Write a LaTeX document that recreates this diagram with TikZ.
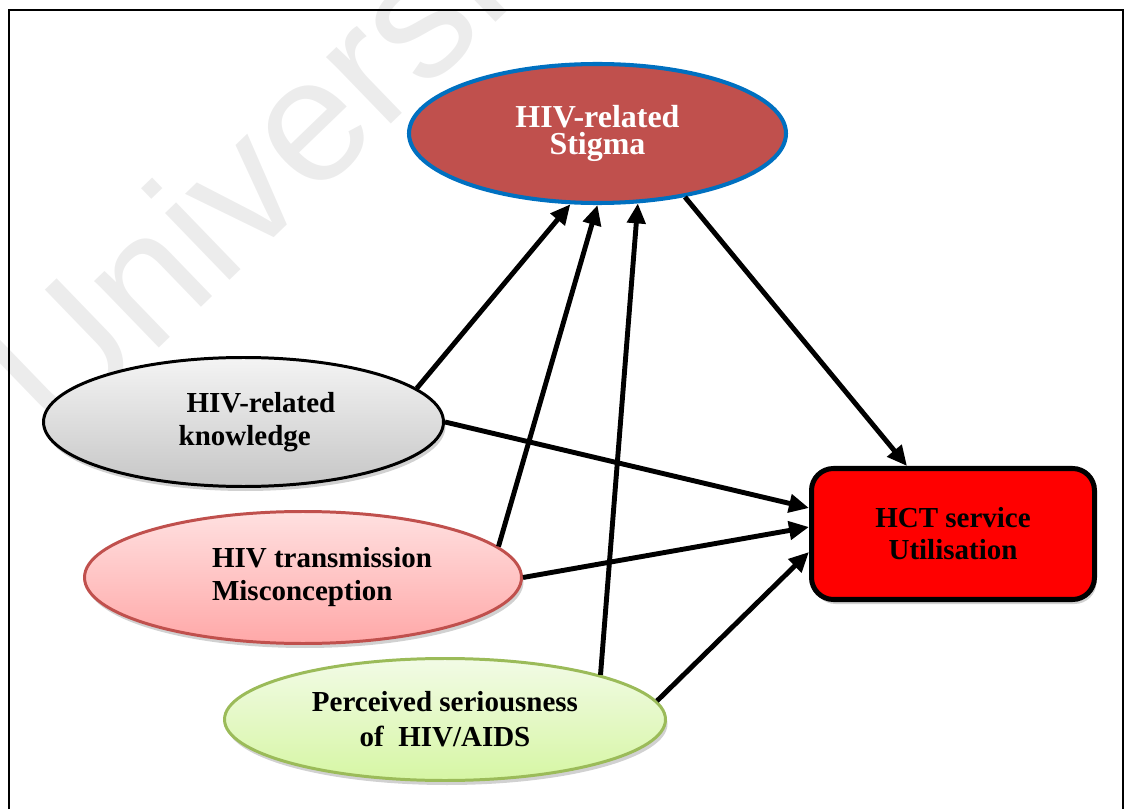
\documentclass[tikz,border=0pt]{standalone}
\usepackage{fontspec}
\setmainfont{Liberation Serif}
\newfontfamily\markfont{Liberation Sans}
\usetikzlibrary{arrows.meta,shapes.geometric,shadows}
\definecolor{stigmafill}{RGB}{192,80,77}
\definecolor{stigmadraw}{RGB}{0,112,192}
\definecolor{knowtop}{RGB}{244,244,244}
\definecolor{knowbot}{RGB}{198,198,198}
\definecolor{misdraw}{RGB}{192,80,77}
\definecolor{mistop}{RGB}{255,224,224}
\definecolor{misbot}{RGB}{255,168,168}
\definecolor{perdraw}{RGB}{155,187,89}
\definecolor{pertop}{RGB}{242,251,230}
\definecolor{perbot}{RGB}{214,246,164}
\definecolor{hctfill}{RGB}{255,0,0}
\definecolor{markgray}{RGB}{236,236,236}

\begin{document}
\begin{tikzpicture}[
  oval/.style={ellipse, line width=1.7pt, inner sep=0pt, text=black, font=\fontsize{16.5}{18.8}\selectfont\bfseries},
  castshadow/.style={drop shadow={shadow xshift=0.04cm, shadow yshift=-0.09cm, opacity=0.3, fill=black!60}},
  arr/.style={-{Triangle[length=0.4cm, width=0.36cm]}, line width=2.8pt, black},
]
\useasboundingbox (0,0) rectangle (22.56,16.18);

% watermark
\node[anchor=base west, rotate=44, text=markgray, font=\markfont\fontsize{100}{100}\selectfont] (mark) at (1.1,7.2) {Universi};

% frame
\draw[line width=1.1pt] (0.18,0) -- (0.18,15.98) -- (22.46,15.98) -- (22.46,0);

% ============ outcome ============
\node[oval, draw=stigmadraw, fill=stigmafill, text=white, line width=2.3pt, align=center,
  minimum width=7.54cm, minimum height=2.78cm, font=\fontsize{18.2}{15.4}\selectfont\bfseries]
  (stigma) at (11.95,13.51) {HIV-related\\Stigma};

\node[rectangle, rounded corners=0.44cm, draw=black, fill=hctfill, line width=2.85pt, castshadow,
  minimum width=5.66cm, minimum height=2.62cm, align=center, font=\fontsize{16.5}{18.2}\selectfont\bfseries]
  (hct) at (19.06,5.5) {HCT service\\Utilisation};

% ============ factors ============
\node[oval, draw=black, top color=knowtop, bottom color=knowbot, castshadow, align=left,
  minimum width=8.0cm, minimum height=2.58cm]
  (know) at (4.87,7.74) {\hspace*{0.7cm}HIV-related\\\hspace*{0.54cm}knowledge};

\node[oval, draw=misdraw, top color=mistop, bottom color=misbot, castshadow, align=left,
  minimum width=8.74cm, minimum height=2.64cm]
  (mis) at (6.06,4.63) {\hspace*{0.76cm}HIV transmission\\\hspace*{0.76cm}Misconception};

\node[oval, draw=perdraw, top color=pertop, bottom color=perbot, castshadow, align=center,
  minimum width=8.82cm, minimum height=2.44cm, font=\fontsize{16.5}{19.9}\selectfont\bfseries]
  (per) at (8.9,1.79) {Perceived seriousness\\of~ HIV/AIDS};

% ============ paths ============
\draw[arr] (know.11) -- (stigma.249);
\draw[arr] (mis.9) -- (stigma.270);
\draw[arr] (per.16) -- (stigma.300);
\draw[arr] (stigma.324) -- ([xshift=1.96cm]hct.north west);
\draw[arr] (know.east) -- ([yshift=0.52cm]hct.west);
\draw[arr] (mis.east) -- ([yshift=0.14cm]hct.west);
\draw[arr] (per.5) -- ([yshift=-0.36cm]hct.west);
\end{tikzpicture}
\end{document}
